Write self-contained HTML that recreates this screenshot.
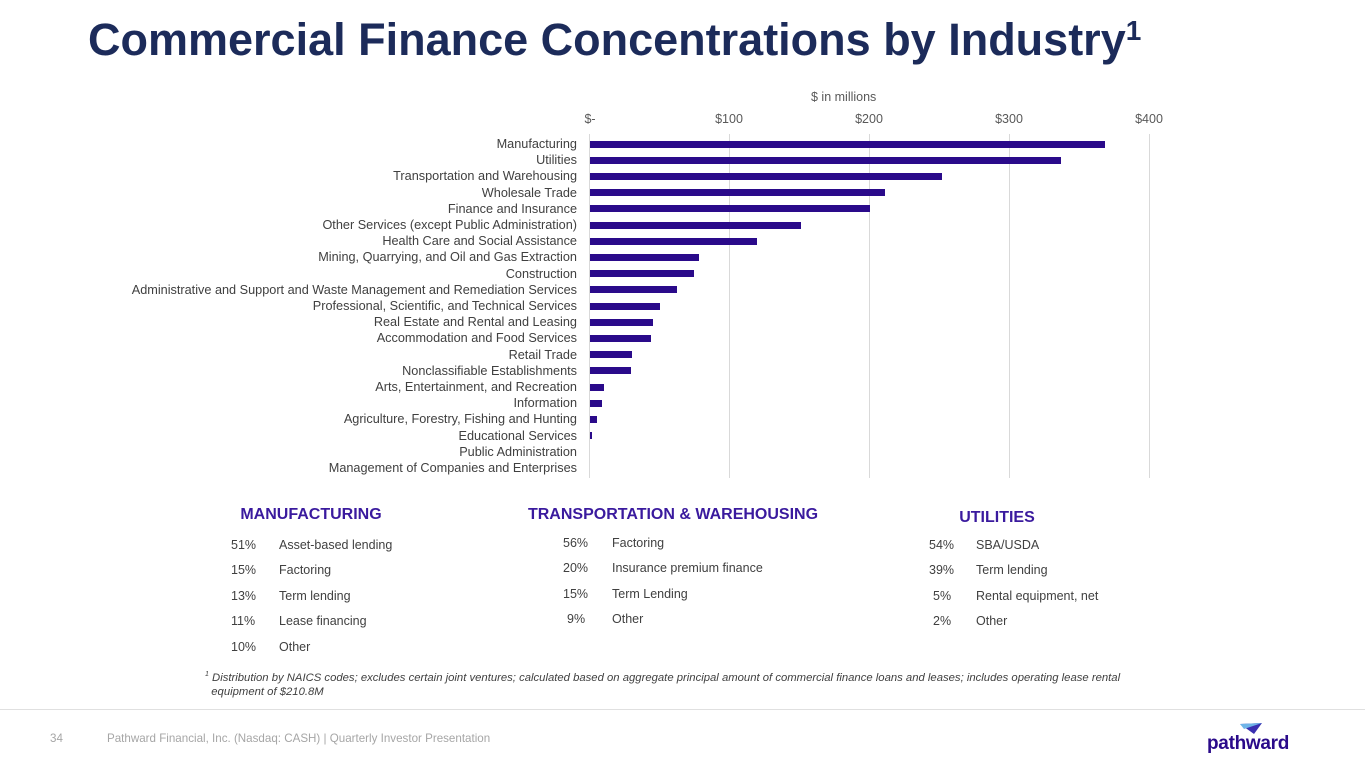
<!DOCTYPE html>
<html><head><meta charset="utf-8"><style>
body{margin:0;width:1365px;height:768px;background:#fff;font-family:"Liberation Sans",sans-serif;position:relative;overflow:hidden}
.a{position:absolute;white-space:nowrap}
.lbl{position:absolute;right:788px;font-size:12.7px;color:#404040;text-align:right;white-space:nowrap}
.bar{position:absolute;left:590px;height:7px;background:#2a0a8a}
.grid{position:absolute;top:134px;height:344px;width:1px;background:#d9d9d9}
.tick{position:absolute;top:112px;font-size:12.5px;color:#595959;transform:translateX(-50%)}
.h{position:absolute;font-size:16px;font-weight:bold;color:#3a1a9e;transform:translateX(-50%);white-space:nowrap}
.t{position:absolute;font-size:12.5px;color:#404040;white-space:nowrap}
</style></head><body>
<div class="a" style="left:88px;top:14px;font-size:45px;font-weight:bold;color:#1c2b5a">Commercial Finance Concentrations by Industry<sup style="font-size:28px;vertical-align:15px">1</sup></div>
<div class="a" style="left:811px;top:90px;font-size:12.5px;color:#595959">$ in millions</div>
<div class="tick" style="left:590px">$-</div><div class="tick" style="left:729px">$100</div><div class="tick" style="left:869px">$200</div><div class="tick" style="left:1009px">$300</div><div class="tick" style="left:1149px">$400</div>
<div class="grid" style="left:589px"></div><div class="grid" style="left:729px"></div><div class="grid" style="left:869px"></div><div class="grid" style="left:1009px"></div><div class="grid" style="left:1149px"></div>
<div id="c"></div>
<script>
var d=[["Manufacturing",1105],["Utilities",1061],["Transportation and Warehousing",942],["Wholesale Trade",885],["Finance and Insurance",870],["Other Services (except Public Administration)",801],["Health Care and Social Assistance",757],["Mining, Quarrying, and Oil and Gas Extraction",699],["Construction",694],["Administrative and Support and Waste Management and Remediation Services",677],["Professional, Scientific, and Technical Services",660],["Real Estate and Rental and Leasing",653],["Accommodation and Food Services",651],["Retail Trade",632],["Nonclassifiable Establishments",631],["Arts, Entertainment, and Recreation",604],["Information",602],["Agriculture, Forestry, Fishing and Hunting",597],["Educational Services",592],["Public Administration",590],["Management of Companies and Enterprises",590]];
var h="";d.forEach(function(r,i){var y=144+i*16.2;h+='<div class="lbl" style="top:'+(y-7)+'px">'+r[0]+'</div>';if(r[1]>590)h+='<div class="bar" style="top:'+(y-3.5)+'px;width:'+(r[1]-590)+'px"></div>';});
document.getElementById("c").innerHTML=h;
</script>
<div class="h" style="left:311px;top:506px">MANUFACTURING</div>
<div class="h" style="left:673px;top:506px">TRANSPORTATION &amp; WAREHOUSING</div>
<div class="h" style="left:997px;top:509px">UTILITIES</div>
<div class="t" style="left:231px;top:538px">51%</div><div class="t" style="left:279px;top:538px">Asset-based lending</div>
<div class="t" style="left:231px;top:563px">15%</div><div class="t" style="left:279px;top:563px">Factoring</div>
<div class="t" style="left:231px;top:589px">13%</div><div class="t" style="left:279px;top:589px">Term lending</div>
<div class="t" style="left:231px;top:614px">11%</div><div class="t" style="left:279px;top:614px">Lease financing</div>
<div class="t" style="left:231px;top:640px">10%</div><div class="t" style="left:279px;top:640px">Other</div>
<div class="t" style="left:563px;top:536px">56%</div><div class="t" style="left:612px;top:536px">Factoring</div>
<div class="t" style="left:563px;top:561px">20%</div><div class="t" style="left:612px;top:561px">Insurance premium finance</div>
<div class="t" style="left:563px;top:587px">15%</div><div class="t" style="left:612px;top:587px">Term Lending</div>
<div class="t" style="left:567px;top:612px">9%</div><div class="t" style="left:612px;top:612px">Other</div>
<div class="t" style="left:929px;top:538px">54%</div><div class="t" style="left:976px;top:538px">SBA/USDA</div>
<div class="t" style="left:929px;top:563px">39%</div><div class="t" style="left:976px;top:563px">Term lending</div>
<div class="t" style="left:933px;top:589px">5%</div><div class="t" style="left:976px;top:589px">Rental equipment, net</div>
<div class="t" style="left:933px;top:614px">2%</div><div class="t" style="left:976px;top:614px">Other</div>
<div class="a" style="left:205px;top:668px;font-size:11.3px;font-style:italic;color:#404040;line-height:14px"><sup style="font-size:7px">1</sup> Distribution by NAICS codes; excludes certain joint ventures; calculated based on aggregate principal amount of commercial finance loans and leases; includes operating lease rental<br>&nbsp;&nbsp;equipment of $210.8M</div>
<div class="a" style="left:0;top:709px;width:1365px;height:1px;background:#e0e0e0"></div>
<div class="a" style="left:50px;top:732px;font-size:11.6px;color:#a6a6a6">34</div>
<div class="a" style="left:107px;top:732px;font-size:11.6px;color:#a6a6a6">Pathward Financial, Inc. (Nasdaq: CASH) | Quarterly Investor Presentation</div>
<svg class="a" style="left:1240px;top:723px" width="22" height="12"><polygon points="0,1 22,0 14,11" fill="#3a2fb0"/><polygon points="0,1 22,0 4,6" fill="#6fb5e8"/></svg>
<div class="a" style="left:1207px;top:733px;font-size:19px;font-weight:bold;color:#2a0a8a;letter-spacing:-0.3px">pathward</div>
</body></html>
